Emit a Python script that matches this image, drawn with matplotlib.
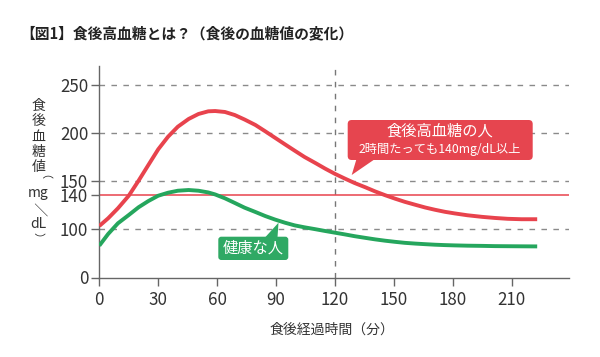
import numpy as np
import matplotlib
matplotlib.use("Agg")
import matplotlib.pyplot as plt
from matplotlib.patches import FancyBboxPatch, Polygon

plt.rcParams['font.family'] = ['Noto Sans CJK JP', 'DejaVu Sans']
plt.rcParams['lines.scale_dashes'] = False

# ---- data ----
minutes = [0, 4.5, 9.5, 15, 20, 25, 30, 35, 40, 45.5, 50.5, 55.5, 59,
           64, 69, 74, 79.5, 84.5, 89.5, 94.5, 99.5, 104.5, 110, 115, 120,
           125, 130, 135.5, 140.5, 145.5, 150.5, 155.5, 161, 166, 171, 176, 181,
           187.5, 195, 201.5, 208, 215, 223]
high_glucose = [103.6, 112.7, 124.6, 139.5, 150.3, 166.8, 183.2, 196.4, 206.9, 215.0,
                220.2, 223.0, 223.3,
                222.3, 219.1, 214.4, 208.7, 202.1, 195.3, 188.5, 181.8, 175.2, 168.9,
                163.0, 157.5, 152.6, 148.6, 145.6, 142.7, 140.1, 136.1, 132.3, 128.7,
                125.5, 122.8, 120.4, 118.5,
                116.3, 114.4, 113.1, 112.1, 111.6, 111.6]
healthy = [65.6, 89.7, 106.8, 116.6, 125.8, 133.2, 139.5, 141.8, 143.2, 143.7,
           143.2, 142.0, 140.6,
           136.4, 130.9, 125.3, 120.2, 115.4, 111.2, 107.5, 104.3, 102.0, 99.6,
           95.9, 92.4, 88.9, 85.2, 81.7, 78.6, 75.9, 73.6, 71.5, 69.9,
           68.7, 67.6, 66.8, 66.2,
           65.6, 65.2, 64.7, 64.5, 64.3, 64.1]
threshold = 140
check_time = 120
x_ticks = [0, 30, 60, 90, 120, 150, 180, 210]
y_ticks = [0, 100, 140, 150, 200, 250]
grid_levels = [100, 150, 200, 250]

title = "【図1】食後高血糖とは？（食後の血糖値の変化）"
xlabel = "食後経過時間（分）"
ylabel_parts = ["食", "後", "血", "糖", "値", "（", "mg", "／", "dL", "）"]
label_high = "食後高血糖の人"
label_high_sub = "2時間たっても140mg/dL以上"
label_healthy = "健康な人"

# ---- styles ----
RED = "#e8434d"
RED_BOX = "#e6454f"
GREEN = "#25a65d"
GREEN_BOX = "#2fa964"
GRID = "#8a8a8a"
AXIS = "#666666"
TEXT = "#333333"

# non-uniform (illustrative) vertical scale of the original chart
VK = np.array([-1000, 0, 100, 140, 150, 200, 250, 1000], dtype=float)
HK = np.array([-485, 0, 48.5, 82.2, 96.5, 144.2, 192.0, 192.0 + 750 * 0.955])

def fwd(v):
    return np.interp(v, VK, HK)

def inv(h):
    return np.interp(h, HK, VK)

fig = plt.figure(figsize=(6, 3.57), dpi=100)
ax = fig.add_axes([99.3 / 600, (357 - 277.5) / 357, 469.3 / 600, 211.1 / 357])
ax.set_yscale('function', functions=(fwd, inv))
ax.set_xlim(0, 239)
ax.set_ylim(0, 270)

for lv in grid_levels:
    ax.axhline(lv, color=GRID, lw=1.0, ls=(0, (4.0, 4.6)), zorder=1)
ax.axvline(check_time, color="#777777", lw=1.0, ls=(0, (4.0, 4.6)), zorder=1)
ax.axhline(threshold, color=RED, lw=1.1, zorder=2)

ax.plot(minutes, healthy, color=GREEN, lw=2.8, solid_capstyle='butt',
        solid_joinstyle='round', zorder=3)
ax.plot(minutes, high_glucose, color=RED, lw=2.8, solid_capstyle='butt',
        solid_joinstyle='round', zorder=3)

ax.set_xticks(x_ticks)
ax.set_yticks(y_ticks)
ax.minorticks_off()
for s in ['top', 'right']:
    ax.spines[s].set_visible(False)
for s in ['left', 'bottom']:
    ax.spines[s].set_color(AXIS)
    ax.spines[s].set_linewidth(1.0)
ax.tick_params(axis='both', length=6, width=1.0, color=AXIS,
               labelsize=12.2, labelcolor=TEXT)
ax.tick_params(axis='x', pad=3.5)
ax.tick_params(axis='y', pad=2)

# ---- overlay in pixel coordinates for text and callouts ----
ov = fig.add_axes([0, 0, 1, 1], zorder=5)
ov.set_xlim(0, 600)
ov.set_ylim(357, 0)
ov.axis('off')

ov.text(20, 33.3, title, fontsize=10.6, fontweight='bold', color="#222222",
        ha='left', va='center')
ov.text(332, 330, xlabel, fontsize=10, color=TEXT, ha='center', va='center')

ylab_y = [105.5, 121.0, 136.5, 152.0, 167.0, 179.6, 192.5, 208.8, 224.5, 237.5]
for part, yy in zip(ylabel_parts, ylab_y):
    rot = -90 if part in ("（", "／", "）") else 0
    fs = 8.0 if part in ("（", "）") else 10
    ov.text(38.3, yy, part, fontsize=fs, color=TEXT, ha='center', va='center',
            rotation=rot)

# red callout
ov.add_patch(FancyBboxPatch((347.7, 120), 185, 40,
                            boxstyle="round,pad=0,rounding_size=4",
                            fc=RED_BOX, ec='none'))
ov.add_patch(Polygon([(356.5, 159), (375, 159), (351.7, 175)], closed=True,
                     fc=RED_BOX, ec='none'))
ov.text(440.2, 131.5, label_high, fontsize=11, color='white', ha='center', va='center')
ov.text(440.2, 149.5, label_high_sub, fontsize=8.8, color='white', ha='center', va='center')

# green callout
ov.add_patch(FancyBboxPatch((218.3, 236.7), 70, 23.3,
                            boxstyle="round,pad=0,rounding_size=3",
                            fc=GREEN_BOX, ec='none'))
ov.add_patch(Polygon([(265, 237.5), (277.5, 237.5), (278.5, 222.7)], closed=True,
                     fc=GREEN_BOX, ec='none'))
ov.text(253.3, 248.5, label_healthy, fontsize=11, color='white', ha='center', va='center')

fig.savefig("out.png", dpi=100)
